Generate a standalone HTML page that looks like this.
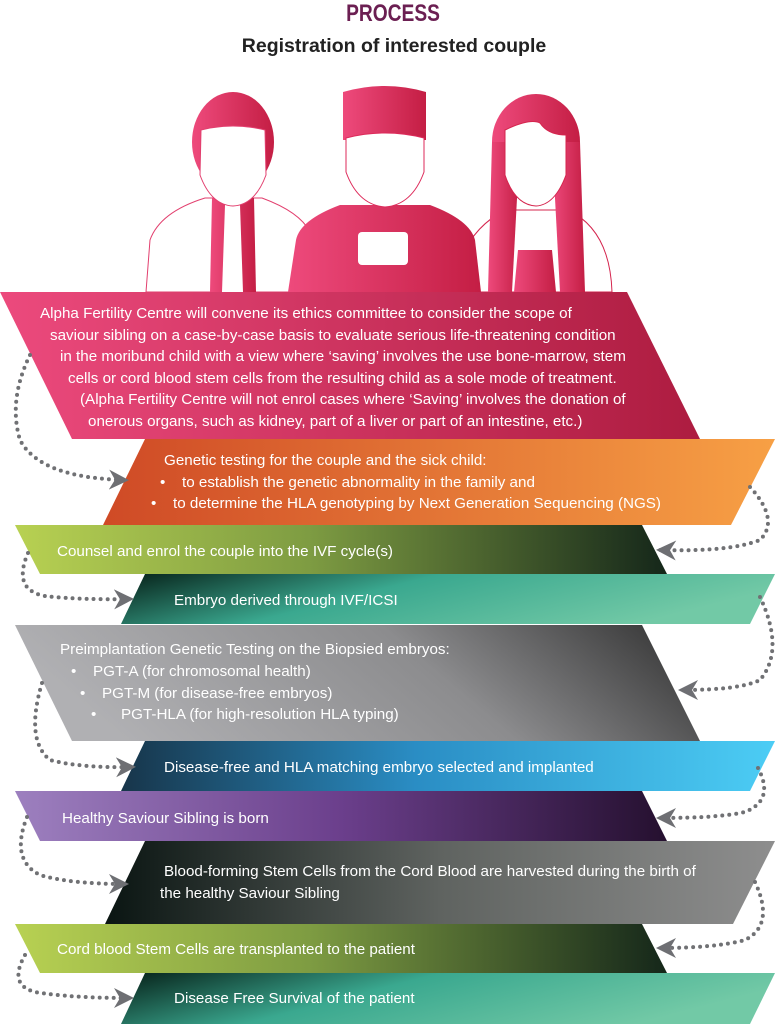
<!DOCTYPE html>
<html><head><meta charset="utf-8"><style>
html,body{margin:0;padding:0;background:#fff}
svg{display:block}
text{font-family:"Liberation Sans",Arial,sans-serif}
</style></head><body>
<svg width="782" height="1024" viewBox="0 0 782 1024" xmlns="http://www.w3.org/2000/svg">
<defs>
<linearGradient id="pk" x1="0" x2="1"><stop offset="0" stop-color="#ec4a7d"/><stop offset="1" stop-color="#ad1c40"/></linearGradient>
<linearGradient id="pp" x1="0" x2="1"><stop offset="0" stop-color="#ee4a7c"/><stop offset="1" stop-color="#c41e44"/></linearGradient>
<linearGradient id="or" x1="0" x2="1"><stop offset="0" stop-color="#cf4a26"/><stop offset="1" stop-color="#f7a045"/></linearGradient>
<linearGradient id="li" x1="0" x2="1"><stop offset="0" stop-color="#b8d152"/><stop offset="0.45" stop-color="#7e9c42"/><stop offset="1" stop-color="#15271a"/></linearGradient>
<linearGradient id="te" x1="0" x2="1" y1="0" y2="0.3"><stop offset="0" stop-color="#062018"/><stop offset="0.45" stop-color="#3aa88f"/><stop offset="1" stop-color="#72c9a6"/></linearGradient>
<linearGradient id="gr" x1="0" x2="1" y1="0.2" y2="0"><stop offset="0" stop-color="#b0b0b3"/><stop offset="0.55" stop-color="#8c8c8e"/><stop offset="1" stop-color="#2e2e2e"/></linearGradient>
<linearGradient id="bl" x1="0" x2="1"><stop offset="0" stop-color="#17354a"/><stop offset="0.45" stop-color="#2a8dc4"/><stop offset="1" stop-color="#4ccdf5"/></linearGradient>
<linearGradient id="pu" x1="0" x2="1"><stop offset="0" stop-color="#9d80bf"/><stop offset="0.5" stop-color="#6b3f8c"/><stop offset="1" stop-color="#25102f"/></linearGradient>
<linearGradient id="dk" x1="0" x2="1"><stop offset="0" stop-color="#0a1512"/><stop offset="0.5" stop-color="#5f6360"/><stop offset="1" stop-color="#8e8e8e"/></linearGradient>
<marker id="ar" viewBox="0 0 10 10" refX="8" refY="5" markerWidth="5" markerHeight="5" orient="auto"><path d="M0,0 L10,5 L0,10 L3,5 Z" fill="#6e6f73"/></marker>
</defs>

<text x="393" y="21" text-anchor="middle" font-size="24" font-weight="bold" fill="#6b1f52" transform="translate(393,0) scale(0.8,1) translate(-393,0)">PROCESS</text>
<text x="394" y="52" text-anchor="middle" font-size="19.5" font-weight="bold" fill="#222">Registration of interested couple</text>

<!-- people -->
<g fill="url(#pp)">
 <!-- left man -->
 <path d="M146,292 L150,240 Q160,212 205,198 L262,198 Q300,212 310,232 L310,292 Z" fill="#fff" stroke="#e23f6e" stroke-width="1"/>
 <path d="M212,198 L254,198 L256,292 L210,292 Z"/>
 <path d="M225,205 L240,205 L243,292 L222,292 Z" fill="#fff"/>
 <ellipse cx="233" cy="142" rx="41" ry="50"/>
 <path d="M201,130 Q233,122 265,130 L266,175 Q255,205 233,206 Q211,205 200,175 Z" fill="#fff" stroke="#e23f6e" stroke-width="1"/>
 <!-- woman -->
 <path d="M455,292 Q458,235 505,210 L568,210 Q610,230 612,292 Z" fill="#fff" stroke="#d5254e" stroke-width="1"/>
 <ellipse cx="536" cy="142" rx="44" ry="48"/>
 <path d="M492,142 L520,142 L512,292 L488,292 Z"/>
 <path d="M552,142 L580,142 L585,292 L560,292 Z"/>
 <path d="M518,250 L552,250 L556,292 L514,292 Z"/>
 <path d="M505,130 Q530,118 540,123 Q548,135 566,135 L566,175 Q555,205 536,206 Q515,205 505,175 Z" fill="#fff" stroke="#d5254e" stroke-width="1"/>
 <!-- middle -->
 <path d="M288,292 L296,240 Q300,220 340,205 L430,205 Q470,220 475,240 L481,292 Z"/>
 <path d="M343,92 Q385,80 426,92 L426,140 L343,140 Z"/>
 <path d="M346,138 Q385,128 424,138 L424,172 Q412,205 385,207 Q358,205 346,172 Z" fill="#fff" stroke="#dd2a5a" stroke-width="1"/>
 <rect x="358" y="232" width="50" height="33" rx="4" fill="#fff"/>
</g>

<!-- bands -->
<polygon points="0,292 627,292 700,439 72,439" fill="url(#pk)"/>
<polygon points="145,439 775,439 731,525 103,525" fill="url(#or)"/>
<polygon points="15,525 642,525 667,574 40,574" fill="url(#li)"/>
<polygon points="145,574 775,574 750,624 121,624" fill="url(#te)"/>
<polygon points="15,625 642,625 700,741 72,741" fill="url(#gr)"/>
<polygon points="145,741 775,741 750,791 121,791" fill="url(#bl)"/>
<polygon points="15,791 642,791 667,841 40,841" fill="url(#pu)"/>
<polygon points="145,841 775,841 733,924 105,924" fill="url(#dk)"/>
<polygon points="15,924 642,924 667,973 40,973" fill="url(#li)"/>
<polygon points="145,973 775,973 750,1024 121,1024" fill="url(#te)"/>

<!-- text -->
<g fill="#fff" font-size="15.2">
<text x="40" y="318">Alpha Fertility Centre will convene its ethics committee to consider the scope of</text>
<text x="50" y="340">saviour sibling on a case-by-case basis to evaluate serious life-threatening condition</text>
<text x="60" y="361">in the moribund child with a view where ‘saving’ involves the use bone-marrow, stem</text>
<text x="68" y="383">cells or cord blood stem cells from the resulting child as a sole mode of treatment.</text>
<text x="80" y="404">(Alpha Fertility Centre will not enrol cases where ‘Saving’ involves the donation of</text>
<text x="88" y="426">onerous organs, such as kidney, part of a liver or part of an intestine, etc.)</text>
<text x="164" y="465">Genetic testing for the couple and the sick child:</text>
<text x="160" y="487">•</text><text x="182" y="487">to establish the genetic abnormality in the family and</text>
<text x="151" y="508">•</text><text x="173" y="508">to determine the HLA genotyping by Next Generation Sequencing (NGS)</text>
<text x="57" y="556">Counsel and enrol the couple into the IVF cycle(s)</text>
<text x="174" y="605">Embryo derived through IVF/ICSI</text>
<text x="60" y="654">Preimplantation Genetic Testing on the Biopsied embryos:</text>
<text x="71" y="676">•</text><text x="93" y="676">PGT-A (for chromosomal health)</text>
<text x="80" y="698">•</text><text x="102" y="698">PGT-M (for disease-free embryos)</text>
<text x="91" y="719">•</text><text x="121" y="719">PGT-HLA (for high-resolution HLA typing)</text>
<text x="164" y="772">Disease-free and HLA matching embryo selected and implanted</text>
<text x="62" y="823">Healthy Saviour Sibling is born</text>
<text x="164" y="876">Blood-forming Stem Cells from the Cord Blood are harvested during the birth of</text>
<text x="160" y="898">the healthy Saviour Sibling</text>
<text x="57" y="954">Cord blood Stem Cells are transplanted to the patient</text>
<text x="174" y="1003">Disease Free Survival of the patient</text>
</g>

<!-- connectors -->
<g fill="none" stroke="#707174" stroke-width="4" stroke-linecap="round" stroke-dasharray="0 7" marker-end="url(#ar)">
<path d="M30,355 Q8,400 20,440 Q40,478 125,480"/>
<path d="M28,553 Q12,590 45,596 Q80,600 130,599"/>
<path d="M42,683 Q25,740 50,760 Q80,768 132,767"/>
<path d="M27,817 Q10,860 40,875 Q70,884 125,884"/>
<path d="M25,955 Q8,985 35,992 Q70,998 130,998"/>
<path d="M750,487 Q780,520 760,540 Q730,552 660,550"/>
<path d="M760,597 Q785,650 760,680 Q740,690 682,690"/>
<path d="M758,768 Q775,800 745,812 Q720,818 660,818"/>
<path d="M755,882 Q775,925 745,940 Q715,948 660,948"/>
</g>
</svg>
</body></html>
